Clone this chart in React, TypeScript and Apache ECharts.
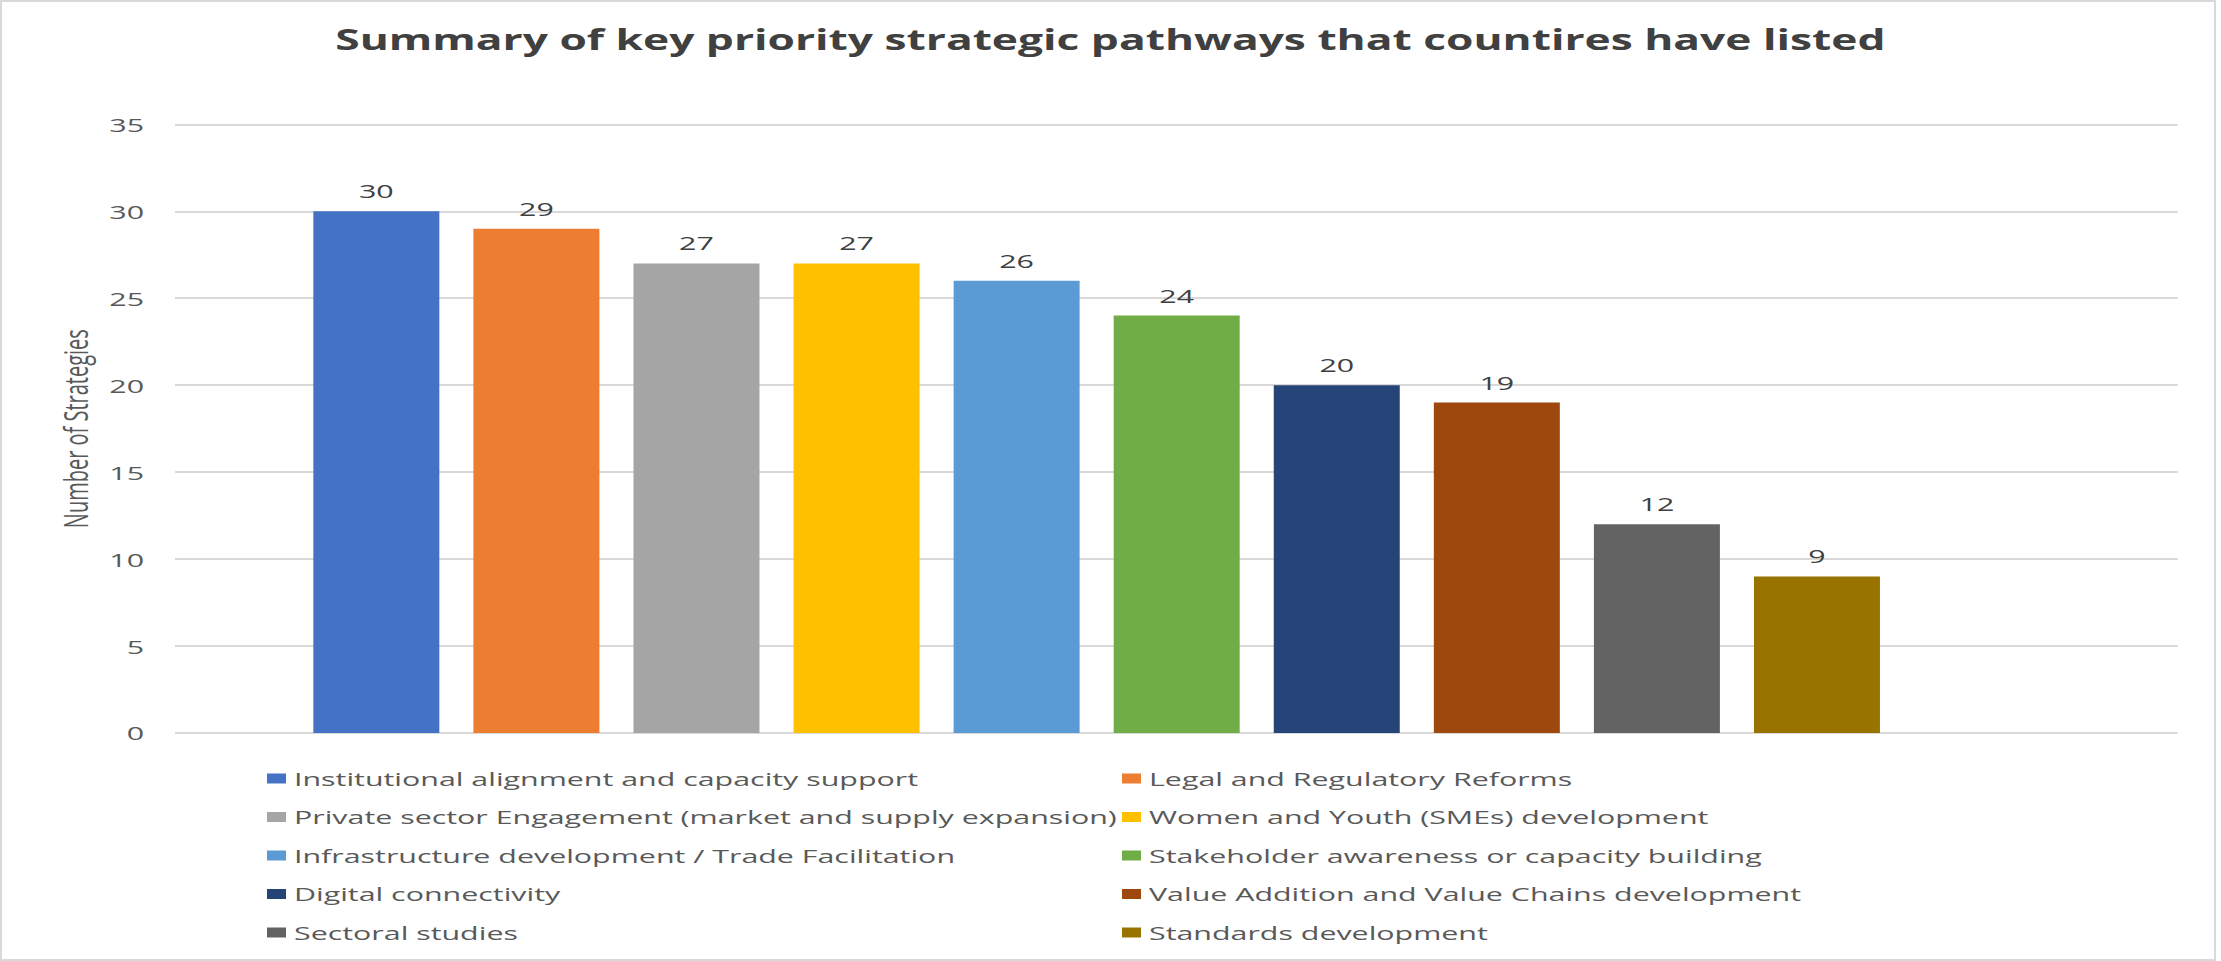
import React, { useEffect, useRef } from "react";
import * as echarts from "echarts";

const chartTitle = "Summary of key priority strategic pathways that countires have listed";
const yAxisTitle = "Number of Strategies";
const categories = [
  "Institutional alignment and capacity support",
  "Legal and Regulatory Reforms",
  "Private sector Engagement (market and supply expansion)",
  "Women and Youth (SMEs) development",
  "Infrastructure development / Trade Facilitation",
  "Stakeholder awareness or capacity building",
  "Digital connectivity",
  "Value Addition and Value Chains development",
  "Sectoral studies",
  "Standards development",
];
const values = [30, 29, 27, 27, 26, 24, 20, 19, 12, 9];
const colors = [
  "#4472C4", "#ED7D31", "#A5A5A5", "#FFC000", "#5B9BD5",
  "#70AD47", "#264478", "#9E480E", "#636363", "#997300",
];
const yMin = 0;
const yMax = 35;
const yInterval = 5;

// horizontal stretch of the original picture
const S = 1.6;
const px = (x: number) => x / S;
const FONT = '"Open Sans", "Noto Sans", sans-serif';

export default function App() {
  const ref = useRef<HTMLDivElement>(null);
  useEffect(() => {
    if (!ref.current) return;
    const chart = echarts.init(ref.current, undefined, { renderer: "svg" });
    const series = categories.map((name, i) => ({
      name,
      type: "bar",
      xAxisIndex: 1,
      yAxisIndex: 1,
      stack: "one",
      barWidth: px(126),
      data: values.map((v, j) => (j === i ? v : "-")),
      itemStyle: { color: colors[i] },
      label: {
        show: true,
        position: "top",
        distance: 11,
        fontSize: 19,
        color: "#404040",
        fontFamily: FONT,
      },
    }));
    const legendBase = {
      orient: "vertical",
      top: 764,
      itemGap: 19.5,
      itemWidth: px(19),
      itemHeight: 10,
      icon: "rect",
      selectedMode: false,
      textStyle: { fontSize: 19, color: "#595959", fontFamily: FONT },
    };
    chart.setOption({
      animation: false,
      backgroundColor: "#ffffff",
      color: colors,
      title: {
        text: chartTitle,
        left: "center",
        top: 20,
        textStyle: { fontSize: 27.7, fontWeight: "bold", color: "#404040", fontFamily: FONT },
      },
      legend: [
        { ...legendBase, left: px(259), data: categories.filter((_, i) => i % 2 === 0) },
        { ...legendBase, left: px(1114), data: categories.filter((_, i) => i % 2 === 1) },
      ],
      grid: [
        { left: px(175), right: px(2221 - 2178), top: 124.3, bottom: 961 - 733 },
        { left: px(296.3), width: px(1600.7), top: 124.3, bottom: 961 - 733 },
      ],
      xAxis: [
        { gridIndex: 0, type: "category", data: [""], show: false },
        { gridIndex: 1, type: "category", data: categories, show: false },
      ],
      yAxis: [
        {
          gridIndex: 0,
          type: "value",
          min: yMin,
          max: yMax,
          interval: yInterval,
          axisLine: { show: false },
          axisTick: { show: false },
          axisLabel: { fontSize: 19, color: "#595959", margin: px(31), fontFamily: FONT },
          splitLine: { lineStyle: { color: "#D9D9D9", width: 2 } },
          name: yAxisTitle,
          nameLocation: "middle",
          nameRotate: 90,
          nameGap: 51.5,
          nameTextStyle: { fontSize: 20, color: "#595959", fontFamily: FONT },
        },
        {
          gridIndex: 1,
          type: "value",
          min: yMin,
          max: yMax,
          interval: yInterval,
          show: false,
          splitLine: { show: false },
        },
      ],
      series,
    });
    return () => chart.dispose();
  }, []);

  return (
    <div style={{ position: "absolute", left: 0, top: 0, width: 2221, height: 961, overflow: "hidden", background: "#fff" }}>
      <div
        ref={ref}
        style={{
          position: "absolute",
          left: 0,
          top: 0,
          width: 2221 / S,
          height: 961,
          transform: `scaleX(${S})`,
          transformOrigin: "0 0",
        }}
      />
      <div
        style={{
          position: "absolute",
          left: 0,
          top: 0,
          width: 2216,
          height: 961,
          border: "2px solid #D9D9D9",
          boxSizing: "border-box",
          pointerEvents: "none",
        }}
      />
    </div>
  );
}
